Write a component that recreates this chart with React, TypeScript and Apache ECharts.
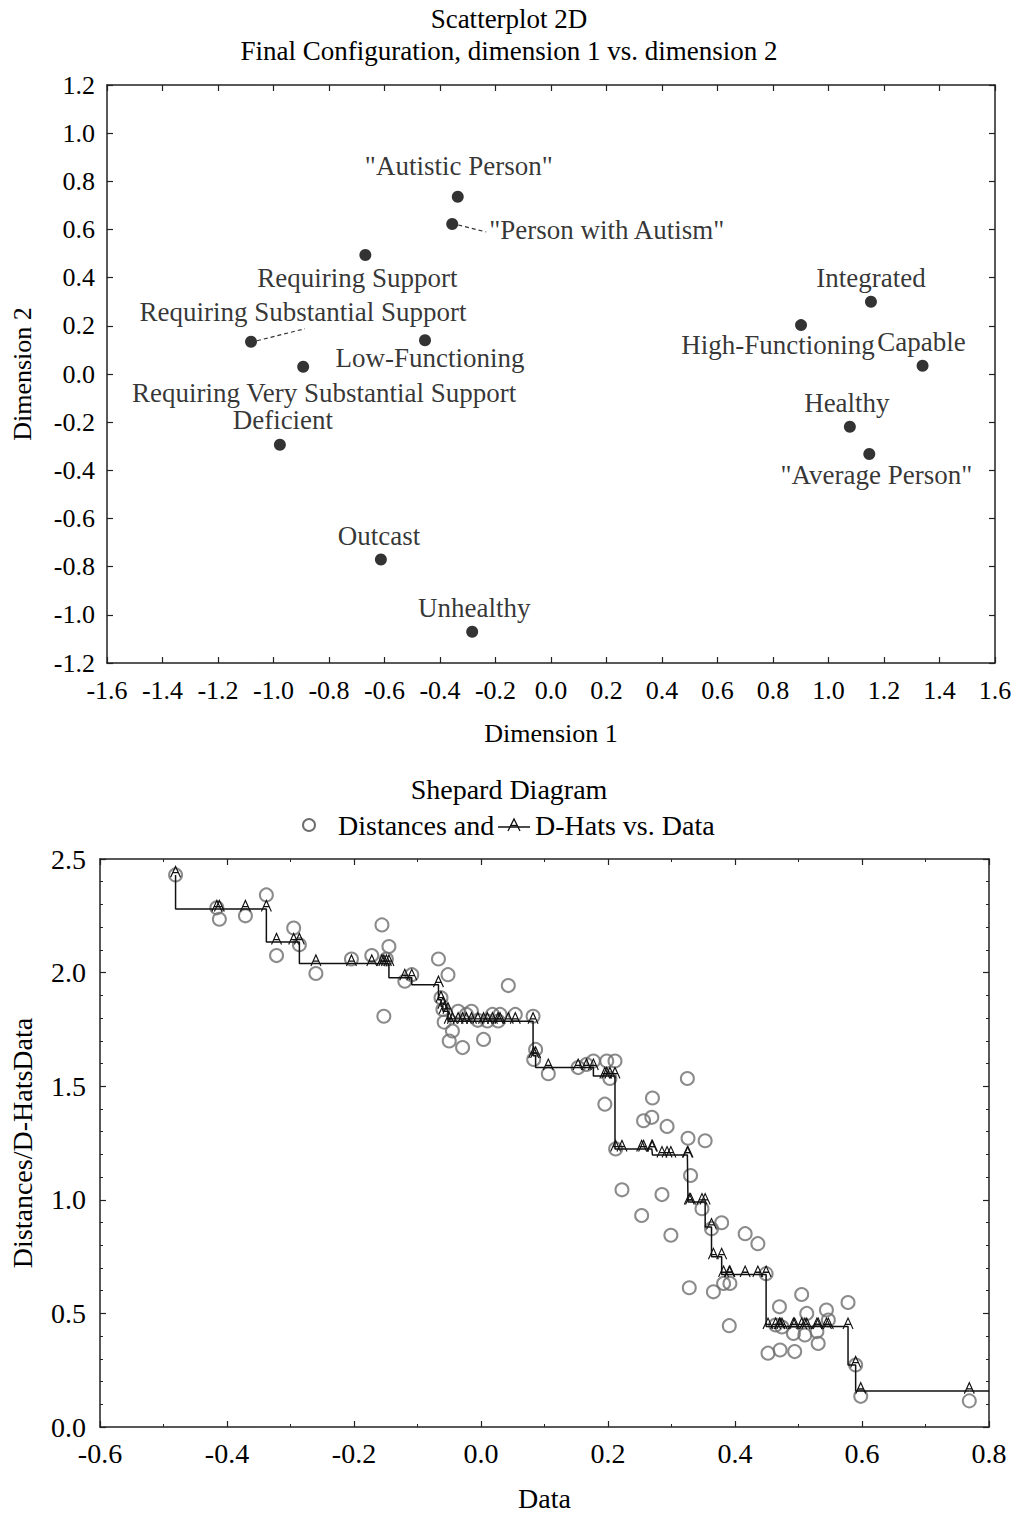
import React, { useEffect, useRef } from 'react';
import * as echarts from 'echarts';

// ---------- Scatterplot 2D data ----------
const pointNames = [
  '"Autistic Person"',
  '"Person with Autism"',
  'Requiring Support',
  'Requiring Substantial Support',
  'Low-Functioning',
  'Requiring Very Substantial Support',
  'Deficient',
  'Outcast',
  'Unhealthy',
  'Integrated',
  'High-Functioning',
  'Capable',
  'Healthy',
  '"Average Person"',
];
const dim1 = [-0.336, -0.356, -0.669, -1.081, -0.454, -0.893, -0.977, -0.613, -0.284, 1.153, 0.901, 1.339, 1.077, 1.147];
const dim2 = [0.736, 0.623, 0.494, 0.134, 0.14, 0.03, -0.294, -0.77, -1.07, 0.3, 0.203, 0.034, -0.219, -0.332];

// ---------- Shepard diagram data ----------
const dataX = [
  -0.481, -0.416, -0.412, -0.371, -0.338, -0.322, -0.295, -0.286, -0.26, -0.204,
  -0.172, -0.156, -0.153, -0.149, -0.145, -0.12, -0.109, -0.067, -0.063, -0.06,
  -0.058, -0.052, -0.05, -0.045, -0.036, -0.029, -0.023, -0.015, -0.005, 0.004,
  0.01, 0.018, 0.027, 0.03, 0.043, 0.054, 0.082, 0.083, 0.086, 0.106,
  0.153, 0.166, 0.177, 0.195, 0.198, 0.203, 0.211, 0.212, 0.222, 0.253,
  0.256, 0.269, 0.27, 0.285, 0.293, 0.299, 0.325, 0.326, 0.328, 0.33,
  0.348, 0.353, 0.363, 0.366, 0.379, 0.382, 0.391, 0.392, 0.416, 0.436,
  0.449, 0.452, 0.464, 0.47, 0.471, 0.474, 0.492, 0.494, 0.505, 0.51,
  0.513, 0.529, 0.531, 0.544, 0.547, 0.578, 0.59, 0.598, 0.769,
];
const distances = [
  2.43, 2.285, 2.235, 2.25, 2.342, 2.075, 2.196, 2.123, 1.996, 2.06,
  2.075, 2.21, 1.808, 2.06, 2.115, 1.962, 1.991, 2.06, 1.889, 1.838,
  1.782, 1.991, 1.699, 1.743, 1.83, 1.67, 1.816, 1.83, 1.79, 1.706,
  1.787, 1.816, 1.787, 1.816, 1.943, 1.816, 1.808, 1.618, 1.662, 1.555,
  1.582, 1.596, 1.611, 1.421, 1.611, 1.534, 1.611, 1.224, 1.044, 0.931,
  1.348, 1.363, 1.448, 1.023, 1.323, 0.844, 1.534, 1.271, 0.613, 1.107,
  0.961, 1.26, 0.873, 0.595, 0.899, 0.632, 0.446, 0.632, 0.851, 0.807,
  0.675, 0.325, 0.449, 0.529, 0.339, 0.44, 0.412, 0.332, 0.583, 0.405,
  0.5, 0.42, 0.368, 0.515, 0.471, 0.548, 0.273, 0.135, 0.115,
];
const dHats = [
  2.43, 2.28, 2.28, 2.28, 2.28, 2.135, 2.135, 2.135, 2.04, 2.04,
  2.04, 2.04, 2.04, 2.04, 2.04, 1.977, 1.977, 1.947, 1.88, 1.852,
  1.83, 1.83, 1.786, 1.786, 1.786, 1.786, 1.786, 1.786, 1.786, 1.786,
  1.786, 1.786, 1.786, 1.786, 1.786, 1.786, 1.786, 1.635, 1.635, 1.582,
  1.582, 1.582, 1.582, 1.545, 1.545, 1.545, 1.545, 1.224, 1.224, 1.224,
  1.224, 1.224, 1.224, 1.197, 1.197, 1.197, 1.197, 1.197, 0.99, 0.99,
  0.99, 0.99, 0.88, 0.749, 0.749, 0.671, 0.671, 0.671, 0.671, 0.671,
  0.671, 0.442, 0.442, 0.442, 0.442, 0.442, 0.442, 0.442, 0.442, 0.442,
  0.442, 0.442, 0.442, 0.442, 0.442, 0.442, 0.273, 0.158, 0.158,
];

// axis ranges
const SC_X = { min: -1.6, max: 1.6, interval: 0.2 };
const SC_Y = { min: -1.2, max: 1.2, interval: 0.2 };
const SH_X = { min: -0.6, max: 0.8, interval: 0.2 };
const SH_Y = { min: 0, max: 2.5, interval: 0.5 };

// label placement (style only): offsets in px from the dot centre
const labelPlacement: Record<string, { dx: number; dy: number; align?: string; leader?: number[] }> = {
  '"Autistic Person"': { dx: 1, dy: -31 },
  '"Person with Autism"': { dx: 37, dy: 6, align: 'left', leader: [6, 1, 34, 8] },
  'Requiring Support': { dx: -8, dy: 23 },
  'Requiring Substantial Support': { dx: 52, dy: -30, leader: [6, -1, 54, -13] },
  'Low-Functioning': { dx: 5, dy: 18 },
  'Requiring Very Substantial Support': { dx: 21, dy: 26 },
  'Deficient': { dx: 3, dy: -25 },
  'Outcast': { dx: -2, dy: -23 },
  'Unhealthy': { dx: 2, dy: -24 },
  'Integrated': { dx: 0, dy: -24 },
  'High-Functioning': { dx: -23, dy: 20 },
  'Capable': { dx: -1, dy: -24 },
  'Healthy': { dx: -3, dy: -24 },
  '"Average Person"': { dx: 7, dy: 21 },
};

const FONT = "'Liberation Serif', 'Times New Roman', Times, serif";
const TOP_FS = 27;
const BOT_FS = 28;
const A_PATH = 'path://M0,11 L5,0 L10,11 M2.2,6.2 L7.8,6.2';
const LINE_COL = '#222';

const fmt = (v: number) => (Math.abs(v) < 1e-9 ? 0 : v).toFixed(1);

function makeAxes(
  gridIndex: number,
  range: { min: number; max: number; interval: number },
  dim: 'x' | 'y',
  fs: number,
  margin: number,
  name: string,
  nameGap: number,
  minorSplit: number
) {
  const common = {
    gridIndex,
    type: 'value',
    min: range.min,
    max: range.max,
    interval: range.interval,
    splitLine: { show: false },
    axisLine: { show: true, onZero: false, lineStyle: { color: LINE_COL, width: 1.5 } },
    axisTick: { show: true, inside: true, length: 6, lineStyle: { color: LINE_COL, width: 1.2 } },
    minorTick: minorSplit > 0
      ? { show: true, splitNumber: minorSplit, length: 3, lineStyle: { color: LINE_COL, width: 1 } }
      : { show: false },
  };
  const main = {
    ...common,
    position: dim === 'x' ? 'bottom' : 'left',
    axisLabel: { formatter: fmt, fontFamily: FONT, fontSize: fs, color: '#000', margin },
    name,
    nameLocation: 'middle',
    nameGap,
    nameTextStyle: { fontFamily: FONT, fontSize: fs, color: '#000' },
  };
  const mirror = {
    ...common,
    position: dim === 'x' ? 'top' : 'right',
    axisLabel: { show: false },
  };
  return [main, mirror];
}

export default function App() {
  const ref = useRef<HTMLDivElement>(null);

  useEffect(() => {
    document.body.style.margin = '0';
    if (!ref.current) return;
    const chart = echarts.init(ref.current, undefined, { renderer: 'svg' });

    const scatterData = pointNames.map((n, i) => {
      const p = labelPlacement[n] || { dx: 0, dy: -24 };
      return {
        name: n,
        value: [dim1[i], dim2[i]],
        label: {
          show: true,
          position: 'inside',
          offset: [p.dx, p.dy],
          align: p.align || 'center',
          verticalAlign: 'middle',
          formatter: n,
          fontFamily: FONT,
          fontSize: TOP_FS,
          color: '#000',
        },
      };
    });

    const lastI = dataX.length - 1;

    const xTop = makeAxes(0, SC_X, 'x', TOP_FS - 1, 14, 'Dimension 1', 57, 0);
    const yTop = makeAxes(0, SC_Y, 'y', TOP_FS - 1, 12, 'Dimension 2', 72, 0);
    const xBot = makeAxes(1, SH_X, 'x', BOT_FS, 12, 'Data', 57, 2);
    const yBot = makeAxes(1, SH_Y, 'y', BOT_FS, 14, 'Distances/D-HatsData', 64, 5);

    const option: any = {
      animation: false,
      backgroundColor: '#ffffff',
      title: [
        { text: 'Scatterplot 2D', left: 'center', top: 5, padding: 0, textStyle: { fontFamily: FONT, fontSize: TOP_FS, fontWeight: 'normal', color: '#000', lineHeight: TOP_FS } },
        { text: 'Final Configuration, dimension 1 vs. dimension 2', left: 'center', top: 37, padding: 0, textStyle: { fontFamily: FONT, fontSize: TOP_FS, fontWeight: 'normal', color: '#000', lineHeight: TOP_FS } },
        { text: 'Shepard Diagram', left: 'center', top: 775, padding: 0, textStyle: { fontFamily: FONT, fontSize: BOT_FS, fontWeight: 'normal', color: '#000', lineHeight: BOT_FS } },
      ],
      grid: [
        { left: 107, top: 85, width: 888, height: 578, containLabel: false },
        { left: 100, top: 859, width: 889, height: 570, containLabel: false },
      ],
      xAxis: [...xTop, ...xBot],
      yAxis: [...yTop, ...yBot],
      series: [
        {
          type: 'scatter',
          name: 'Configuration',
          xAxisIndex: 0,
          yAxisIndex: 0,
          symbol: 'circle',
          symbolSize: 12,
          itemStyle: { color: '#000' },
          data: scatterData,
          z: 3,
        },
        {
          type: 'scatter',
          name: 'Distances',
          xAxisIndex: 2,
          yAxisIndex: 2,
          symbol: 'circle',
          symbolSize: 13,
          itemStyle: { color: 'rgba(0,0,0,0)', borderColor: '#6e6e6e', borderWidth: 2 },
          data: dataX.map((x, i) => [x, distances[i]]),
          z: 2,
        },
        {
          type: 'line',
          name: 'D-Hats',
          xAxisIndex: 2,
          yAxisIndex: 2,
          step: 'start',
          showAllSymbol: true,
          symbol: A_PATH,
          symbolSize: [10, 11],
          symbolOffset: [0, -3],
          itemStyle: { color: 'rgba(0,0,0,0)', borderColor: '#111', borderWidth: 1.2 },
          lineStyle: { color: '#111', width: 1.5 },
          data: dataX.map((x, i) => [x, dHats[i]]),
          z: 3,
        },
        {
          type: 'line',
          name: 'D-Hats extension',
          xAxisIndex: 2,
          yAxisIndex: 2,
          symbol: 'none',
          lineStyle: { color: '#111', width: 1.5 },
          data: [
            [dataX[lastI], dHats[lastI]],
            [SH_X.max, dHats[lastI]],
          ],
          z: 3,
        },
      ],
    };

    chart.setOption(option);

    // leader lines (dashed) and the Shepard legend
    const graphics: any[] = [];
    pointNames.forEach((n, i) => {
      const p = labelPlacement[n];
      if (!p || !p.leader) return;
      const px = chart.convertToPixel({ xAxisIndex: 0, yAxisIndex: 0 }, [dim1[i], dim2[i]]) as number[];
      const l = p.leader;
      graphics.push({
        type: 'line',
        shape: { x1: px[0] + l[0], y1: px[1] + l[1], x2: px[0] + l[2], y2: px[1] + l[3] },
        style: { stroke: '#333', lineWidth: 1.2, lineDash: [4, 3] },
        z: 10,
      });
    });
    const LY = 825;
    graphics.push(
      { type: 'circle', shape: { cx: 309, cy: LY, r: 6 }, style: { fill: 'none', stroke: '#6e6e6e', lineWidth: 2 } },
      { type: 'text', x: 338, y: LY, style: { text: 'Distances and', fontFamily: FONT, fontSize: BOT_FS, fill: '#000', align: 'left', verticalAlign: 'middle' } },
      { type: 'line', shape: { x1: 498, y1: LY + 2, x2: 530, y2: LY + 2 }, style: { stroke: '#111', lineWidth: 1.5 } },
      { type: 'polyline', shape: { points: [[508, LY + 6], [514, LY - 6], [520, LY + 6]] }, style: { stroke: '#111', lineWidth: 1.3, fill: 'none' } },
      { type: 'line', shape: { x1: 510.8, y1: LY + 0.5, x2: 517.2, y2: LY + 0.5 }, style: { stroke: '#111', lineWidth: 1.3 } },
      { type: 'text', x: 535, y: LY, style: { text: 'D-Hats vs. Data', fontFamily: FONT, fontSize: BOT_FS, fill: '#000', align: 'left', verticalAlign: 'middle' } }
    );
    chart.setOption({ graphic: { elements: graphics } });

    return () => {
      chart.dispose();
    };
  }, []);

  return <div ref={ref} style={{ width: 1018, height: 1513 }} />;
}
